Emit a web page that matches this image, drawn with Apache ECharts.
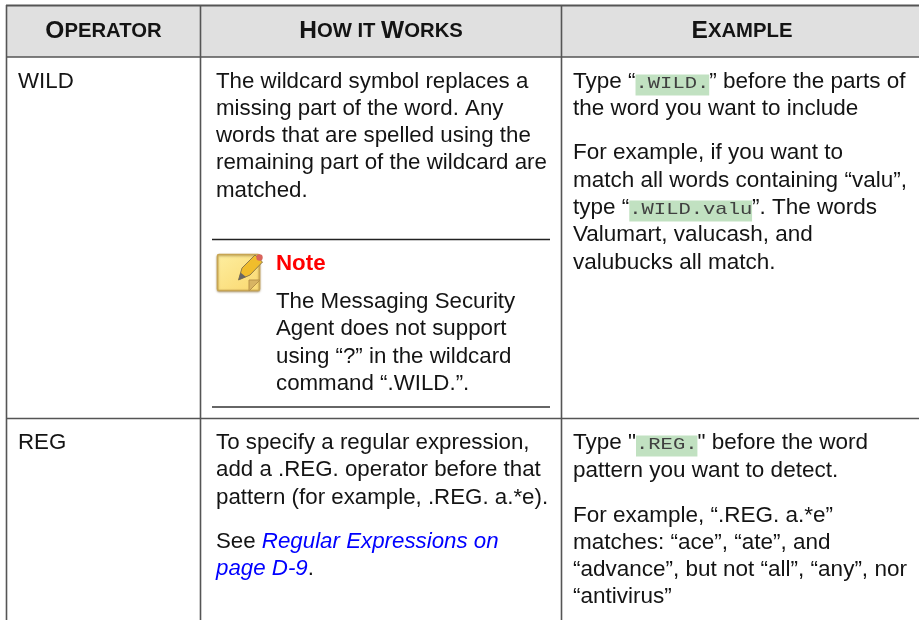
<!DOCTYPE html>
<html><head><meta charset="utf-8">
<style>html,body{margin:0;padding:0;background:#fff}#c{width:919px;height:620px}</style>
<script src="https://cdn.jsdelivr.net/npm/echarts@6/dist/echarts.min.js"></script>
</head><body><div id="c"></div>
<script>
const headers = ["Operator", "How it Works", "Example"];
const operators = ["WILD", "REG"];
const wildHow = ["The wildcard symbol replaces a", "missing part of the word. Any", "words that are spelled using the", "remaining part of the wildcard are", "matched."];
const noteTitle = "Note";
const noteBody = ["The Messaging Security", "Agent does not support", "using “?” in the wildcard", "command “.WILD.”."];
const wildExample = ["Type “{code|.WILD.}” before the parts of", "the word you want to include", "For example, if you want to", "match all words containing “valu”,", "type “{code|.WILD.valu}”. The words", "Valumart, valucash, and", "valubucks all match."];
const regHow = ["To specify a regular expression,", "add a .REG. operator before that", "pattern (for example, .REG. a.*e).", "See {link|Regular Expressions on}", "{link|page D-9}."];
const regExample = ["Type \"{code|.REG.}\" before the word", "pattern you want to detect.", "For example, “.REG. a.*e”", "matches: “ace”, “ate”, and", "“advance”, but not “all”, “any”, nor", "“antivirus”"];

const FONT = '"Liberation Sans", Arial, sans-serif';
const MONO = '"Liberation Mono", monospace';
const INK = '#141414', RULE = '#555';
const BODY = 22.3, BODY_EX = 22.5;
const CODE = 16.6, CODE_SX = 1.235;
const rich = {
  link: {fontFamily:FONT, fontSize:BODY, fontStyle:'italic', fill:'#0000ff'},
  big: {fontFamily:FONT, fontSize:24.5, fontWeight:'bold', fill:INK},
  small: {fontFamily:FONT, fontSize:20.3, fontWeight:'bold', fill:INK}
};
const els = [];
const ctx = document.createElement('canvas').getContext('2d');
function width(s,size){ ctx.font = size+'px "Liberation Sans"'; return ctx.measureText(s).width; }
function plain(x,y,text,extra){
  els.push({type:'text',x,y,silent:true,z:5,style:Object.assign({text,fill:INK,fontFamily:FONT,fontSize:BODY,verticalAlign:'middle',align:'left',rich},extra||{})});
}
function line(x,y,text,extra){
  const size=(extra&&extra.fontSize)||BODY;
  const parts = text.split(/\{code\|([^}]*)\}/);
  if(parts.length===1){ plain(x,y,text,extra); return; }
  let cx=x;
  parts.forEach((p,i)=>{
    if(i%2===0){ if(p){ plain(cx,y,p,extra); cx+=width(p,size);} }
    else{
      const w=p.length*12.28;
      els.push({type:'rect',silent:true,z:1,shape:{x:cx,y:y-7.5,width:w,height:21},style:{fill:'#c1e1c1'}});
      els.push({type:'text',silent:true,z:5,x:cx,y:y+2,scaleX:CODE_SX,style:{text:p,fill:'#404040',fontFamily:MONO,fontSize:CODE,verticalAlign:'middle',align:'left'}});
      cx+=w;
    }
  });
}
function seg(x1,y1,x2,y2,w,c){ els.push({type:'line',silent:true,shape:{x1,y1,x2,y2},style:{stroke:c||RULE,lineWidth:w}}); }
// header band
els.push({type:'rect',silent:true,shape:{x:6,y:6,width:913,height:51},style:{fill:'#e0e0e0'}});
const colX=[6.5,200.5,561.5], headC=[103.5,381,742];
const caps = h => h.split(/(\S+)/).map(w=>{
  if(!w) return '';
  if(w===' ') return '{small| }';
  const first = w[0]===w[0].toUpperCase();
  return first ? '{big|'+w[0]+'}'+(w.length>1?'{small|'+w.slice(1).toUpperCase()+'}':'') : '{small|'+w.toUpperCase()+'}';
}).join('');
headers.forEach((h,i)=>{
  els.push({type:'text',x:headC[i],y:31.5,silent:true,z:5,style:{text:caps(h),rich,align:'center',verticalAlign:'middle',fill:INK}});
});
// grid rules
seg(6,5.5,919,5.5,2);
seg(6,57,919,57,1.6);
seg(6,418.5,919,418.5,1.6);
colX.forEach(x=>seg(x,5,x,620,1.6));
// WILD row
line(18,82,operators[0]);
const wy=[82,109,136,163,191];
wildHow.forEach((t,i)=>line(216,wy[i],t));
seg(212,239.5,550,239.5,1.4,'#222');
seg(212,407,550,407,1.4,'#333');
line(276,264,noteTitle,{fill:'#ff0000',fontWeight:'bold',fontSize:BODY});
const ny=[302,329,357,384];
noteBody.forEach((t,i)=>line(276,ny[i],t));
const wex=[82,109,153,181,208,235,263];
wildExample.forEach((t,i)=>line(573,wex[i],t,{fontSize:BODY_EX}));
// REG row
line(18,443,operators[1]);
const ry=[443,470,498,542,569];
regHow.forEach((t,i)=>line(216,ry[i],t));
const rex=[443,471,516,543,570,597];
regExample.forEach((t,i)=>line(573,rex[i],t,{fontSize:BODY_EX}));
// note icon
els.push({type:'rect',silent:true,shape:{x:217.5,y:254.5,width:42,height:36,r:1.5},style:{fill:{type:'linear',x:0,y:0,x2:0.6,y2:1,colorStops:[{offset:0,color:'#fdeea0'},{offset:1,color:'#fbdc78'}]},stroke:'#c8a552',lineWidth:1.6,shadowBlur:2,shadowColor:'rgba(120,90,30,.5)',shadowOffsetY:1}});
els.push({type:'polygon',silent:true,shape:{points:[[249,291],[260,280],[249,280]]},style:{fill:'#d8b463',stroke:'#b8924a',lineWidth:1}});
els.push({type:'polygon',silent:true,shape:{points:[[238.5,280],[242,268],[255,255],[262.5,262],[250,275]]},style:{fill:'#f0bd2c',stroke:'#8d7a4a',lineWidth:1}});
els.push({type:'polygon',silent:true,shape:{points:[[238.5,280],[240.5,272.5],[246,277]]},style:{fill:'#666'}});
els.push({type:'circle',silent:true,shape:{cx:259.5,cy:257.5,r:3.2},style:{fill:'#d9645c'}});

const chart=echarts.init(document.getElementById('c'),null,{renderer:'canvas'});
chart.setOption({animation:false,backgroundColor:'#fff',graphic:{elements:els}});
</script></body></html>
